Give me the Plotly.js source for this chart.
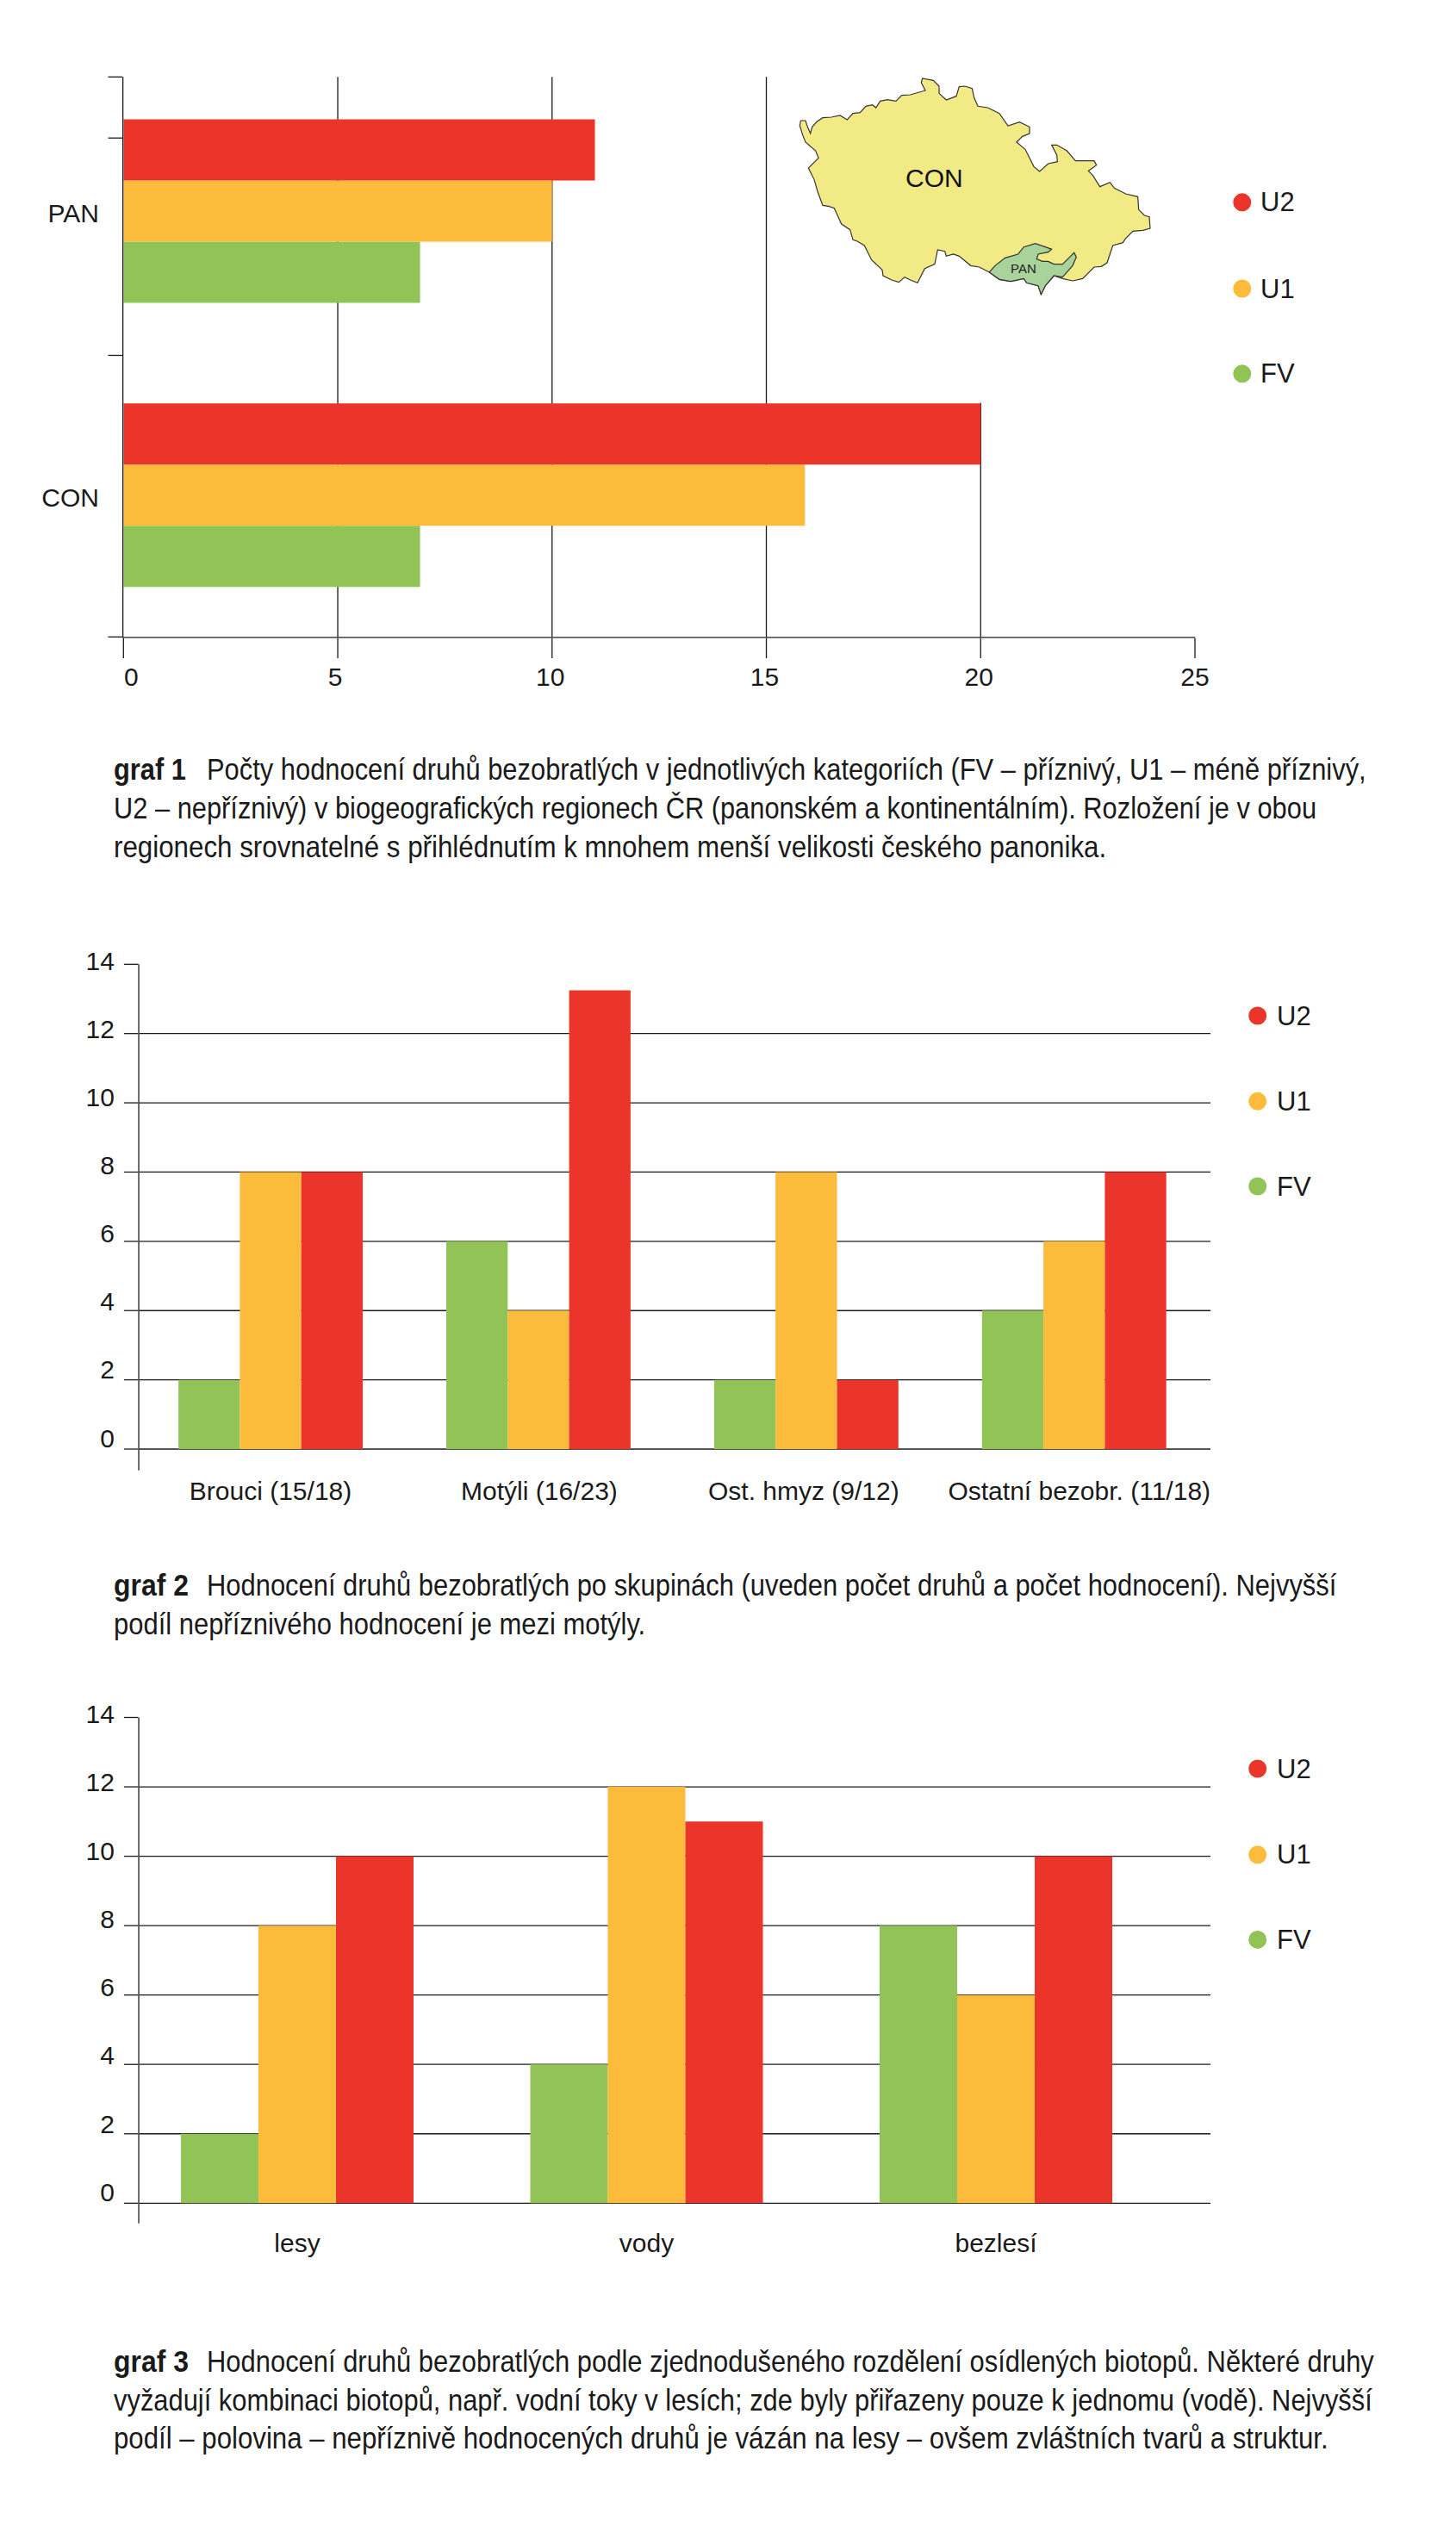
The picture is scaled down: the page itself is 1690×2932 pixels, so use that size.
<!DOCTYPE html>
<html><head><meta charset="utf-8">
<script src="https://cdn.plot.ly/plotly-3.0.1.min.js"></script>
<style>html,body{margin:0;padding:0;background:#fff}</style></head>
<body><div id="chart" style="width:1690px;height:2932px"></div>
<script>
// ---- data ----
const seriesNames = ['FV','U1','U2'];
const seriesColors = ['#92C356','#FDBB3B','#EB352B'];

const g1Regions = ['CON','PAN'];
const g1FV = [6.92,6.92];
const g1U1 = [15.9,10];
const g1U2 = [20,11];

const g2Groups = ['Brouci (15/18)','Motýli (16/23)','Ost. hmyz (9/12)','Ostatní bezobr. (11/18)'];
const g2FV = [2,6,2,4];
const g2U1 = [8,4,8,6];
const g2U2 = [8,13.25,2,8];

const g3Groups = ['lesy','vody','bezlesí'];
const g3FV = [2,4,8];
const g3U1 = [8,12,6];
const g3U2 = [10,11,10];

const captionLabels = ['graf 1','graf 2','graf 3'];
const caption1 = ['Počty hodnocení druhů bezobratlých v jednotlivých kategoriích (FV – příznivý, U1 – méně příznivý,',
 'U2 – nepříznivý) v biogeografických regionech ČR (panonském a kontinentálním). Rozložení je v obou',
 'regionech srovnatelné s přihlédnutím k mnohem menší velikosti českého panonika.'];
const caption2 = ['Hodnocení druhů bezobratlých po skupinách (uveden počet druhů a počet hodnocení). Nejvyšší',
 'podíl nepříznivého hodnocení je mezi motýly.'];
const caption3 = ['Hodnocení druhů bezobratlých podle zjednodušeného rozdělení osídlených biotopů. Některé druhy',
 'vyžadují kombinaci biotopů, např. vodní toky v lesích; zde byly přiřazeny pouze k jednomu (vodě). Nejvyšší',
 'podíl – polovina – nepříznivě hodnocených druhů je vázán na lesy – ovšem zvláštních tvarů a struktur.'];

// inset map outlines (picture points)
const czOutline = [[148,240],[165,240],[172,262],[182,285],[188,262],[205,243],[225,230],[255,228],[285,222],[310,237],[330,215],[355,212],[375,190],[398,185],[410,195],[425,172],[450,167],[480,172],[500,152],[530,150],[582,135],[568,108],[572,93],[610,100],[630,120],[630,145],[655,168],[690,155],[700,122],[720,120],[745,128],[752,160],[765,190],[800,195],[840,215],[870,258],[910,245],[945,262],[945,285],[920,295],[900,315],[930,340],[960,400],[980,417],[1010,390],[1042,383],[1040,360],[1022,325],[1040,325],[1075,345],[1105,380],[1170,380],[1178,395],[1150,415],[1165,430],[1190,470],[1225,455],[1240,475],[1280,495],[1322,505],[1325,550],[1345,570],[1362,575],[1365,615],[1340,622],[1305,625],[1280,650],[1270,665],[1235,675],[1215,735],[1195,748],[1170,750],[1130,790],[1095,798],[1060,790],[1030,780],[1000,815],[985,845],[975,815],[935,805],[925,790],[880,800],[840,793],[805,768],[770,750],[740,745],[700,712],[680,705],[655,712],[650,695],[625,690],[615,740],[580,755],[555,805],[530,795],[510,785],[490,803],[465,795],[435,780],[432,760],[395,725],[370,675],[345,660],[330,655],[320,620],[290,600],[265,545],[245,538],[225,535],[208,490],[195,445],[175,405],[210,370],[200,345],[165,315],[155,290],[145,258]];
const panOutline = [[805,768],[825,745],[860,718],[905,705],[925,680],[965,668],[1000,680],[1022,688],[1010,698],[975,705],[970,722],[990,730],[1010,730],[1030,740],[1060,740],[1085,715],[1100,700],[1108,715],[1095,745],[1060,785],[1030,780],[1000,815],[985,845],[975,815],[935,805],[925,790],[880,800],[840,793]];

// ---- layout helpers (page pixels -> paper) ----
const W = 1690, H = 2932;
const px = x => x / W, py = y => 1 - y / H;
const INK = '#1a1a1a', LW = 1.3;
const SANS = '"Liberation Sans", Arial, sans-serif';
const tickFont = {family: SANS, size: 30, color: INK};

function bars(x, y, i, ax, orient, w) {
  return {type:'bar', orientation: orient, name: seriesNames[i], x, y, xaxis:'x'+ax, yaxis:'y'+ax,
    width:w, offset:(i-1.5)*w, marker:{color: seriesColors[i], line:{width:0}}, showlegend:false};
}
const traces = [
  bars(g1FV,[0,1],0,'','h',0.2153), bars(g1U1,[0,1],1,'','h',0.2153), bars(g1U2,[0,1],2,'','h',0.2153),
  bars(g2Groups,g2FV,0,'2','v',0.2293), bars(g2Groups,g2U1,1,'2','v',0.2293), bars(g2Groups,g2U2,2,'2','v',0.2293),
  bars(g3Groups,g3FV,0,'3','v',0.222), bars(g3Groups,g3U1,1,'3','v',0.222), bars(g3Groups,g3U2,2,'3','v',0.222)
];

function vertAxes(top, bottom, lowVal, standoff) {
  return {
    x: {domain:[px(161.7),px(1405)], type:'category', showline:false, showgrid:false, ticks:'', zeroline:false,
        tickfont: tickFont, automargin:false, ticklabelstandoff:standoff},
    y: {domain:[py(bottom),py(top)], range:[lowVal,14], dtick:2, tick0:0, showgrid:true, gridcolor:INK, gridwidth:LW,
        zeroline:true, zerolinecolor:INK, zerolinewidth:LW, showline:true, linecolor:INK, linewidth:LW,
        ticks:'outside', ticklen:16.5, tickcolor:INK, tickwidth:LW, tickfont:tickFont, ticklabelstandoff:5, automargin:false}
  };
}
const v2 = vertAxes(1119.3,1706.7,-0.614,3), v3 = vertAxes(1993.5,2580.7,-0.581,2);

const legendShapes = [], annotations = [], fits = [];
function legend(cx, ys, tx) {
  [2,1,0].forEach((s,k) => {
    legendShapes.push({type:'circle', xref:'paper', yref:'paper', x0:px(cx-10.5), x1:px(cx+10.5),
      y0:py(ys[k]+10.5), y1:py(ys[k]-10.5), fillcolor:seriesColors[s], line:{width:0}, layer:'above'});
    annotations.push({xref:'paper', yref:'paper', x:px(tx), y:py(ys[k]), xanchor:'left', yanchor:'middle',
      text:seriesNames[s], showarrow:false, font:{family:SANS,size:31,color:INK}, xshift:-1, borderpad:0});
  });
}
legend(1441.8,[234.8,335,433.8],1463);
legend(1459.7,[1179,1278.3,1377],1482);
legend(1459.7,[2053,2152.8,2251.4],1482);

function capText(text, x, base, width, bold) {
  fits.push({index:annotations.length, width});
  annotations.push({xref:'paper', yref:'paper', x:px(x), y:py(base), xanchor:'left', yanchor:'bottom',
    text: bold ? '<b>'+text+'</b>' : text, showarrow:false, borderpad:0, xshift:-1, yshift:-10,
    align:'left', font:{family:SANS,size:35,color:INK}});
}
function caption(label, labelW, lines, base, ends, bodyX) {
  capText(label, 131.5, base[0], labelW, true);
  lines.forEach((t,k) => { const x = k ? 131.5 : bodyX; capText(t, x, base[k], ends[k]-x, false); });
}
caption(captionLabels[0],84,caption1,[903,948,993],[1586,1528,1284],240);
caption(captionLabels[1],87,caption2,[1850,1895],[1552,749],240);
caption(captionLabels[2],87,caption3,[2751,2796,2840],[1596,1593,1542],240);

const mapPt = p => [880+p[0]/3, 60+p[1]/3];
function mapPath(pts) {
  return pts.map((p,i) => { const q = mapPt(p); return (i?'L':'M')+px(q[0]).toFixed(5)+','+py(q[1]).toFixed(5); }).join(' ')+' Z';
}
const mapShapes = [
  {type:'rect', xref:'paper', yref:'paper', x0:px(1130), x1:px(1160), y0:py(467.5), y1:py(80), fillcolor:'#fff', line:{width:0}, layer:'above'},
  {type:'path', xref:'paper', yref:'paper', path:mapPath(czOutline), fillcolor:'#F2EB85', line:{color:'#333',width:1.2}, layer:'above'},
  {type:'path', xref:'paper', yref:'paper', path:mapPath(panOutline), fillcolor:'#A8D39B', line:{color:'#333',width:1.2}, layer:'above'}
];
annotations.push({xref:'paper',yref:'paper',x:px(1084),y:py(206),text:'CON',showarrow:false,xanchor:'center',yanchor:'middle',font:{family:SANS,size:30,color:'#111'}});
annotations.push({xref:'paper',yref:'paper',x:px(1188),y:py(311.7),text:'PAN',showarrow:false,xanchor:'center',yanchor:'middle',font:{family:SANS,size:15,color:'#222'}});

const layout = {
  width:W, height:H, margin:{l:0,r:0,t:0,b:0,pad:0}, paper_bgcolor:'#fff', plot_bgcolor:'rgba(0,0,0,0)',
  barmode:'overlay', showlegend:false, hovermode:false,
  xaxis:{domain:[px(143.3),px(1387)], range:[0,25], dtick:5, tick0:0, showgrid:true, gridcolor:INK, gridwidth:LW, zeroline:false,
    showline:true, linecolor:INK, linewidth:LW, ticks:'outside', ticklen:23.4, tickcolor:INK, tickwidth:LW, tickfont:tickFont,
    ticklabelstandoff:-4, anchor:'y', automargin:false},
  yaxis:{domain:[py(739.3),py(89.3)], range:[-0.499,1.472], showgrid:false, zeroline:false, showline:true, linecolor:INK, linewidth:LW,
    tickvals:[0,1], ticktext:g1Regions, ticks:'', tickfont:tickFont, ticklabelstandoff:21, anchor:'x', automargin:false,
    minor:{tickvals:[1.472,1.257,0.492,-0.499], ticks:'outside', ticklen:16.5, tickcolor:INK, tickwidth:LW, showgrid:false}},
  xaxis2:Object.assign(v2.x,{anchor:'y2', range:[-0.49,3.509]}),
  yaxis2:Object.assign(v2.y,{anchor:'x2'}),
  xaxis3:Object.assign(v3.x,{anchor:'y3', range:[-0.452,2.614]}),
  yaxis3:Object.assign(v3.y,{anchor:'x3'}),
  shapes: mapShapes.concat(legendShapes),
  annotations
};

// small print-layout offsets of individual tick labels, in page pixels
function nudge(sel, fn) {
  document.querySelectorAll(sel).forEach((t,i) => {
    const d = fn(t.textContent, i);
    const tr = t.getAttribute('transform') || '';
    t.setAttribute('transform', `translate(${d[0]},${d[1]}) ${tr}`);
  });
}
const nudgeNum = {'0':9,'5':-3,'10':-2,'15':-2,'20':-2,'25':0};
const nudgeCat = {'Ost. hmyz (9/12)':-3,'Ostatní bezobr. (11/18)':6,'Motýli (16/23)':1};

Plotly.newPlot('chart', traces, layout, {displayModeBar:false, staticPlot:true}).then(gd => {
  // The printed captions are set in a condensed face: squeeze each real text line to its printed width.
  const nodes = Array.from(gd.querySelectorAll('.annotation'));
  fits.forEach(f => {
    const g = nodes.find(n => +n.getAttribute('data-index') === f.index);
    if (!g) return;
    const t = g.querySelector('text');
    const b = t.getBBox();
    const s = f.width / b.width;
    t.setAttribute('transform', `translate(${b.x},0) scale(${s},1) translate(${-b.x},0)`);
  });
  // value labels of the column charts ride slightly above their rules, more so towards the bottom
  ['.y2tick text','.y3tick text'].forEach(sel => nudge(sel, txt => [0, -(13 - (+txt)*9/14)]));
  nudge('.ytick text', () => [0, 3]);
  nudge('.xtick text', txt => [nudgeNum[txt] || 0, 0]);
  nudge('.x2tick text', txt => [nudgeCat[txt] || 0, 0]);
  gd.querySelectorAll('.crisp').forEach(n => { n.style.shapeRendering = 'geometricPrecision'; });
});
</script></body></html>
